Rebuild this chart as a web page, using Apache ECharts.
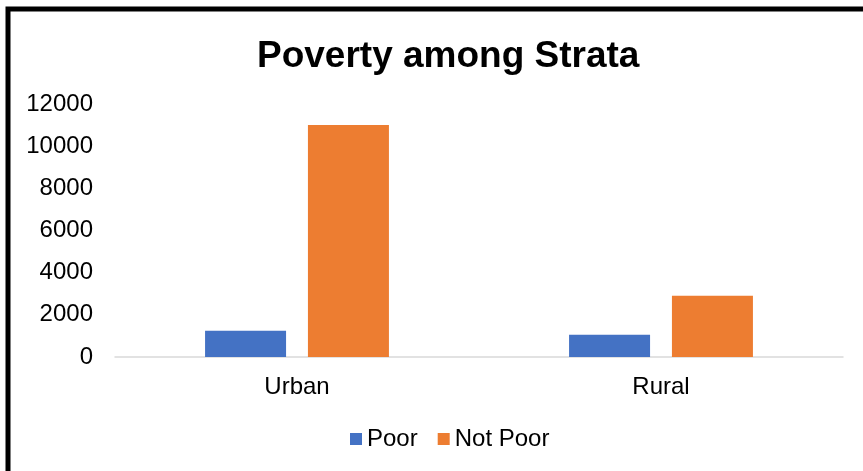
<!DOCTYPE html>
<html>
<head>
<meta charset="utf-8">
<script src="https://cdn.jsdelivr.net/npm/echarts@6/dist/echarts.min.js"></script>
<style>
  html, body { margin: 0; padding: 0; background: #fff; }
  #chart { width: 863px; height: 471px; }
</style>
</head>
<body>
<div id="chart"></div>
<script>
// Chart data
const categories = ['Urban', 'Rural'];
const poorValues = [1250, 1050];
const notPoorValues = [11000, 2900];
const seriesNames = ['Poor', 'Not Poor'];

const chart = echarts.init(document.getElementById('chart'));

const font = '"Liberation Sans", Arial, sans-serif';

const option = {
  backgroundColor: '#fff',
  animation: false,
  title: {
    text: 'Poverty among Strata',
    left: 252,
    top: 33,
    textStyle: {
      fontFamily: font,
      fontWeight: 'bold',
      fontSize: 37,
      color: '#000'
    }
  },
  graphic: [{
    type: 'rect',
    shape: {x: 8, y: 9, width: 900, height: 500},
    style: {fill: 'none', stroke: '#000', lineWidth: 5},
    silent: true
  }],
  legend: {
    bottom: 15,
    left: 345,
    itemWidth: 12,
    itemHeight: 12,
    itemGap: 20,
    icon: 'rect',
    textStyle: {fontFamily: font, fontSize: 24, color: '#000'},
    data: seriesNames
  },
  grid: {
    left: 115,
    right: 20,
    top: 104,
    bottom: 114
  },
  xAxis: {
    type: 'category',
    data: categories,
    axisLine: {lineStyle: {color: '#d9d9d9', width: 1.5}},
    axisTick: {show: false},
    axisLabel: {fontFamily: font, fontSize: 24, color: '#000', margin: 18}
  },
  yAxis: {
    type: 'value',
    min: 0,
    max: 12000,
    interval: 2000,
    axisLine: {show: false},
    axisTick: {show: false},
    splitLine: {show: false},
    axisLabel: {
      fontFamily: font,
      fontSize: 24,
      color: '#000',
      margin: 22,
      formatter: v => String(v)
    }
  },
  series: [{
    name: seriesNames[0],
    type: 'bar',
    data: poorValues,
    barWidth: 81,
    barGap: '27%',
    itemStyle: {color: '#4472C4'}
  }, {
    name: seriesNames[1],
    type: 'bar',
    data: notPoorValues,
    barWidth: 81,
    itemStyle: {color: '#ED7D31'}
  }]
};

chart.setOption(option);
</script>
</body>
</html>
